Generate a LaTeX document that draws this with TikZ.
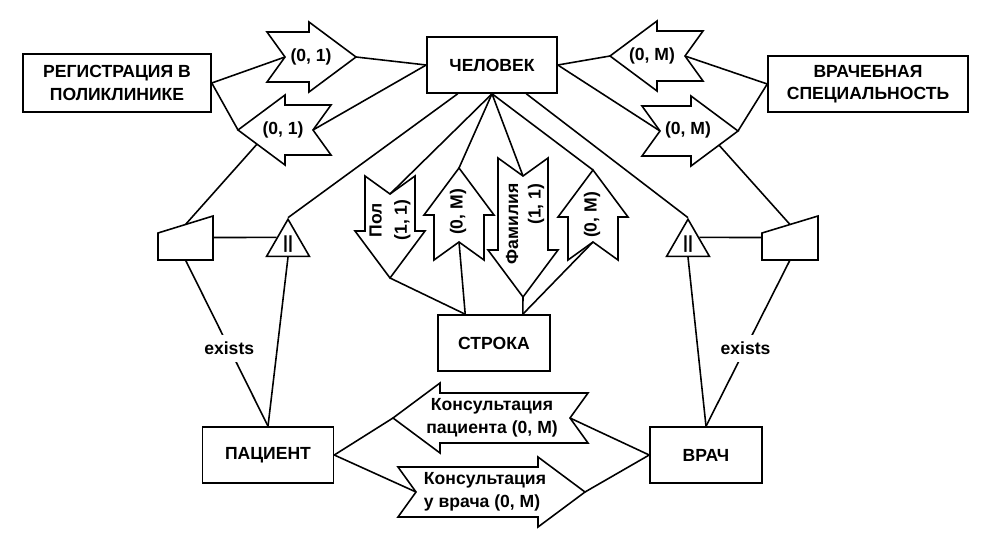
\documentclass[tikz,border=0pt]{standalone}
\usepackage{fontspec}
\setmainfont{Liberation Sans}
\usetikzlibrary{shapes.geometric}
% block arrow with notched tail: name, tail point, angle, length
\newcommand{\relarrow}[4]{%
  \begin{scope}[shift={#2}, rotate=#3]
    \draw[fill=white] (0,25) -- ({#4-47},25) -- ({#4-47},35) -- (#4,0)
      -- ({#4-47},-35) -- ({#4-47},-25) -- (0,-25) -- (18,0) -- cycle;
    \coordinate (#1-notch) at (18,0);
    \coordinate (#1-tip) at (#4,0);
    \coordinate (#1-side1) at ({#4-19},-14.15);
    \coordinate (#1-side2) at ({#4-19},14.15);
  \end{scope}}
\tikzset{
  entity/.style={draw, rectangle, align=center, minimum height=1.12cm, inner sep=2pt},
  card/.style={align=center, inner sep=0pt},
  subtype/.style={draw, regular polygon, regular polygon sides=3, minimum size=0.99cm, inner sep=0pt},
  exlabel/.style={fill=white, inner sep=4pt}
}
\begin{document}
\begin{tikzpicture}[x=0.02cm, y=-0.02cm, line width=0.9pt,
  font=\fontsize{10}{12.8}\selectfont\bfseries]
\useasboundingbox (0,0) rectangle (993,544);

% entities
\node[entity, minimum width=3.76cm, minimum height=1.16cm] (reg) at (117,83) {РЕГИСТРАЦИЯ В\\ПОЛИКЛИНИКЕ};
\node[entity, minimum width=2.6cm] (chel) at (492,65) {ЧЕЛОВЕК};
\node[entity, minimum width=4cm] (spec) at (868,84) {ВРАЧЕБНАЯ\\СПЕЦИАЛЬНОСТЬ};
\node[entity, minimum width=2.24cm] (str) at (494,343) {СТРОКА};
\node[entity, minimum width=2.62cm] (pat) at (268,455) {ПАЦИЕНТ};
\node[entity, minimum width=2.24cm] (vrach) at (706,455) {ВРАЧ};

% subtypes
\node[subtype] (triL) at (288,244) {||};
\node[subtype] (triR) at (688,244) {||};
\draw (158,260) -- (158,233) -- (213,216) -- (213,260) -- cycle;
\coordinate (trapL-top) at (185.5,224.5);
\coordinate (trapL-bot) at (185.5,260);
\coordinate (trapL-east) at (213,237.5);
\draw (762,260) -- (762,233) -- (818,216) -- (818,260) -- cycle;
\coordinate (trapR-top) at (790,224.5);
\coordinate (trapR-bot) at (790,260);
\coordinate (trapR-west) at (762,237.5);

% relationships
\relarrow{a1}{(267,57)}{0}{89}
\relarrow{a2}{(331,130)}{180}{93}
\relarrow{a3}{(703,56)}{180}{93}
\relarrow{a4}{(642,131)}{0}{96}
\relarrow{v1}{(390,176)}{-90}{102}
\relarrow{v2}{(459,260)}{90}{92}
\relarrow{v3}{(523,158)}{-90}{139}
\relarrow{v4}{(593,260)}{90}{90}
\relarrow{c1}{(588,418)}{180}{195}
\relarrow{c2}{(398,492)}{0}{187}

\node[card] (a1-lab) at (311,57) {(0, 1)};
\node[card] (a2-lab) at (283,130) {(0, 1)};
\node[card] (a3-lab) at (652,56) {(0, M)};
\node[card] (a4-lab) at (688,130) {(0, M)};
\node[card, rotate=90] (v1-lab) at (390,220) {Пол\\[1.5pt](1, 1)};
\node[card, rotate=90] (v2-lab) at (458,212) {(0, M)};
\node[card, rotate=90, align=right] (v3-lab) at (525,224) {Фамилия\\(1, 1)};
\node[card, rotate=90] (v4-lab) at (592,215) {(0, M)};
\node[card] (c1-lab) at (492,418) {Консультация\\пациента (0, M)};
\node[card, align=left] (c2-lab) at (485,492) {Консультация\\у врача (0, M)};

% connectors
\draw (reg.east) -- (a1-notch);
\draw (reg.east) -- (a2-tip);
\draw (a1-tip) -- (chel.west);
\draw (a2-notch) -- (chel.west);
\draw (a3-tip) -- (chel.east);
\draw (a4-notch) -- (chel.east);
\draw (a3-notch) -- (spec.west);
\draw (a4-tip) -- (spec.west);
\draw (chel.south) -- (v1-notch);
\draw (chel.south) -- (v2-tip);
\draw (chel.south) -- (v3-notch);
\draw (chel.south) -- (v4-tip);
\draw (v1-tip) -- (str.135);
\draw (v2-notch) -- (str.135);
\draw (v3-tip) -- (str.45);
\draw (v4-notch) -- (str.45);
\draw (triL.corner 1) -- (chel.220);
\draw (triR.corner 1) -- (chel.320);
\draw (trapL-top) -- (a2-side1);
\draw (trapR-top) -- (a4-side2);
\draw (trapL-east) -- (triL.side 1);
\draw (triR.side 3) -- (trapR-west);
\draw (trapL-bot) -- node[exlabel, pos=0.53] (exL) {exists} (pat.north);
\draw (triL.side 2) -- (pat.north);
\draw (trapR-bot) -- node[exlabel, pos=0.53] (exR) {exists} (vrach.north);
\draw (triR.side 2) -- (vrach.north);
\draw (pat.east) -- (c1-tip);
\draw (pat.east) -- (c2-notch);
\draw (vrach.west) -- (c1-notch);
\draw (vrach.west) -- (c2-tip);
\end{tikzpicture}
\end{document}
